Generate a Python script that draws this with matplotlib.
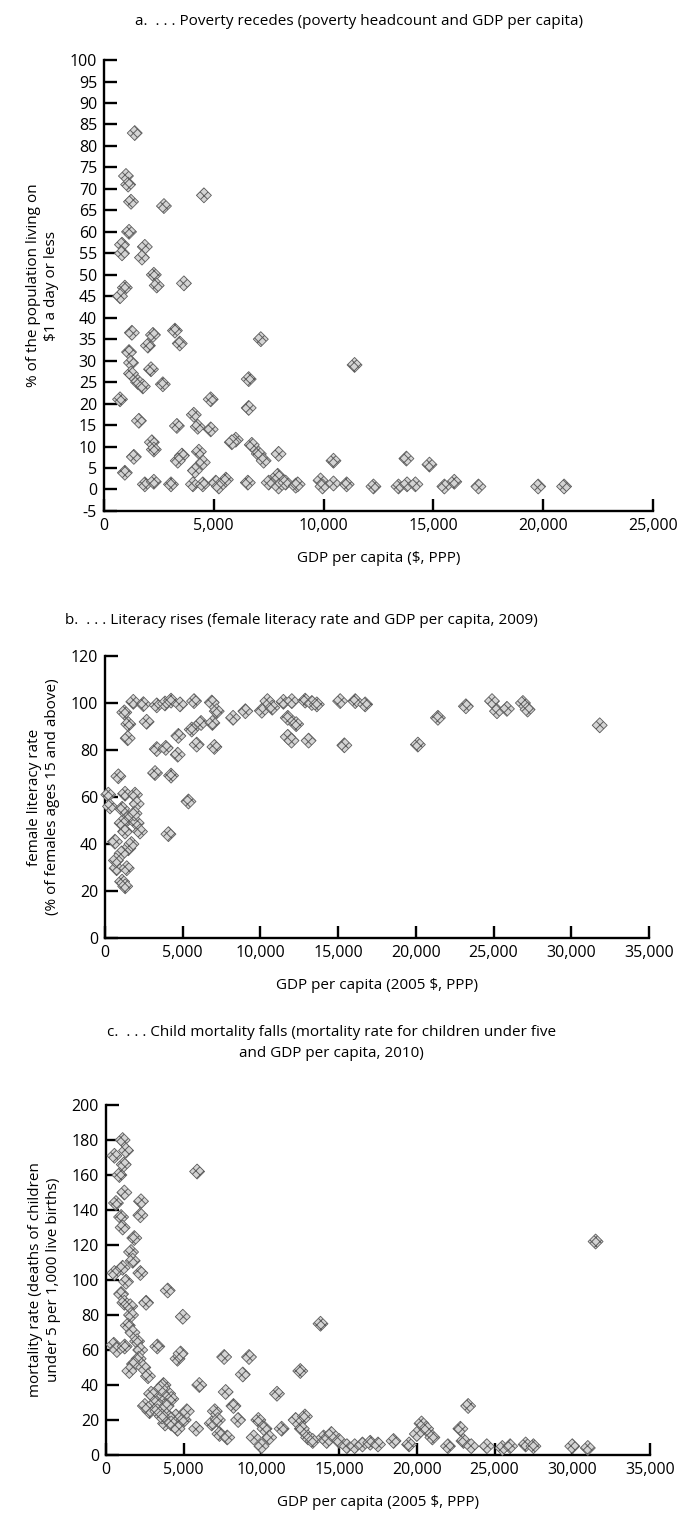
import matplotlib
matplotlib.use("Agg")
import matplotlib.pyplot as plt
from matplotlib.ticker import FuncFormatter

plt.rcParams['font.family'] = ['Open Sans', 'DejaVu Sans']
plt.rcParams['axes.unicode_minus'] = False
plt.rcParams['hatch.linewidth'] = 0.7

# a. poverty headcount vs GDP per capita
pov_gdp = [1400, 1000, 1100, 1230, 2730, 4550, 1140, 820, 820, 1860, 1730, 2270, 2400, 3640, 950, 730,
           1270, 2230, 3230, 2000, 3450, 7140, 1140, 1230, 2140, 1230, 1550, 1770, 2680, 730, 4860,
           6590, 6590, 1590, 4090, 3320, 4270, 4860, 6000, 5820, 2180, 2270, 6730, 7050, 7270, 7950,
           1360, 3550, 3360, 4320, 4500, 4140, 950, 1860, 2270, 3050, 4050, 4500, 5090, 5230, 5550,
           6550, 7500, 7910, 7950, 8270, 8730, 11410, 8820, 9860, 9950, 10450, 10450, 11050, 12270,
           13410, 13800, 14180, 13770, 14820, 15500, 15950, 17050, 19770, 20950]
pov_rate = [83, 73, 71, 67, 66, 68.5, 60, 57, 55, 56.5, 54, 50, 47.5, 48, 47, 45,
            36.5, 36, 37, 33.5, 34, 35, 32, 29.5, 28, 27, 25, 24, 24.5, 21, 21,
            25.7, 19, 16, 17.4, 14.8, 14.6, 14, 11.6, 11, 11, 9.3, 10.4, 8.3, 6.7, 8.3,
            7.6, 7.9, 6.7, 8.8, 6.3, 4.4, 3.9, 1.2, 1.8, 1.2, 1.2, 1.2, 1.6, 0.7, 2.3,
            1.6, 1.6, 3.2, 0.7, 1.6, 0.9, 29, 1.2, 2.1, 0.7, 6.7, 1.4, 1.2, 0.7,
            0.7, 1.2, 1.2, 7.2, 5.8, 0.7, 1.8, 0.7, 0.7, 0.7]

# b. female literacy rate vs GDP per capita, 2009
lit_gdp = [1820, 2470, 3330, 3860, 4250, 4830, 5730, 6870, 7190, 8240, 9030, 10090, 10450, 10760,
           11480, 12020, 12880, 13310, 13630, 15130, 16100, 16740,
           1240, 1500, 2680, 1460, 4720, 5580, 6180, 6910, 5900, 7040, 11760, 12300, 11760, 12000,
           13100, 15400,
           3330, 3910, 4680, 3220, 4250, 860, 210, 1290, 1930, 320, 2040, 5370, 1500, 1070, 2040,
           2250, 1290, 4080, 640, 1500, 1070, 750, 1400, 1100, 1300, 700, 1700, 1900, 1100,
           21420, 23220, 24900, 25220, 25860, 26890, 27190, 31830, 20130]
lit_rate = [100.5, 99.5, 99, 99.8, 101, 99.4, 100.8, 100.2, 96.5, 93.7, 96.5, 96.7, 100.8, 98,
            100.5, 100.8, 101, 100, 99.4, 100.8, 100.8, 99.4,
            96, 91, 92, 85, 86, 88.7, 91.5, 91.5, 82.3, 81.3, 93.7, 91, 85.6, 84,
            84, 82,
            80.4, 80.9, 78, 70.2, 69.1, 68.8, 61, 61.4, 61, 56, 57.1, 58.1, 51, 48.9, 48.9,
            45.3, 45.3, 44.2, 41, 38.2, 36, 29.7, 29.7, 24, 22, 33, 40, 53, 55,
            93.7, 98.6, 100.8, 96.5, 97.5, 100, 97.2, 90.5, 82.3]

# c. under-five mortality vs GDP per capita, 2010
mort_gdp = [1070, 1290, 540, 1140, 860, 5860, 1180, 640, 2250, 2210, 970, 1070, 1820, 1610, 1720,
            540, 1070, 2210, 1290, 970, 3970, 1180, 2580, 1560, 1610, 4940, 1400, 1700,
            500, 700, 1200, 2000, 2200, 2100, 1800, 2400, 1500, 2700, 3300, 3000, 2800, 3200,
            3700, 4000, 3600, 4200, 3500, 4600, 4800, 4500, 4000, 3800, 5000, 5200, 5800, 6000,
            6800, 7000, 7200, 7300, 7600, 7800, 7700, 8200, 8500, 8800, 9200, 9500, 9800, 10000,
            10200, 10500, 11000, 11300, 12500, 12200, 12600, 12800, 13000, 13300, 13800, 14000,
            14200, 14500, 15000, 15500, 16000, 16500, 17000, 17500, 18500, 19500, 20000, 20300,
            20600, 21000, 22000, 22800, 23000, 23300, 23500, 24500, 25500, 26000, 27000, 27500,
            30000, 31000, 31500, 2500, 3300, 3600, 4200, 4600, 2900, 3900]
mort_rate = [180, 174, 171, 166, 160, 162, 150, 144, 145, 137, 136, 130, 124, 116, 111,
             104, 107, 104, 99, 92, 94, 87, 87, 85, 80, 79, 74, 70,
             63, 60, 62, 65, 60, 55, 52, 50, 48, 45, 62, 28, 25, 30,
             40, 35, 35, 32, 38, 55, 58, 22, 22, 18, 20, 25, 15, 40,
             18, 25, 20, 12, 56, 10, 36, 28, 20, 46, 56, 10, 20, 5,
             15, 10, 35, 15, 48, 20, 15, 22, 10, 8, 75, 10,
             8, 12, 8, 5, 5, 6, 7, 6, 8, 6, 12, 18,
             15, 10, 5, 15, 8, 28, 5, 5, 4, 5, 6, 5,
             5, 4, 122, 28, 25, 22, 18, 15, 35, 28]

comma = FuncFormatter(lambda v, p: f"{int(v):,}")

fig = plt.figure(figsize=(6.77, 15.28), dpi=100)


def panel(rect, x, y, xlim, xticks, ylim, yticks, xlabel, ylabel):
    ax = fig.add_axes(rect)
    ax.scatter(x, y, marker='D', s=58, facecolors='#d4d4d4', edgecolors='#5e5e5e',
               linewidths=0.6, hatch='xxxx', zorder=3, clip_on=False)
    ax.set_xlim(*xlim)
    ax.set_ylim(*ylim)
    ax.set_xticks(xticks)
    ax.set_yticks(yticks)
    ax.xaxis.set_major_formatter(comma)
    for s in ['top', 'right']:
        ax.spines[s].set_visible(False)
    for s in ['left', 'bottom']:
        ax.spines[s].set_linewidth(1.7)
    ax.tick_params(direction='in', length=9, width=1.7, labelsize=11.5, pad=5)
    ax.set_xlabel(xlabel, fontsize=11, labelpad=12)
    ax.set_ylabel(ylabel, fontsize=11, labelpad=8)
    return ax


panel([0.1536, 0.6656, 0.811, 0.2951], pov_gdp, pov_rate, (0, 25000), range(0, 25001, 5000),
      (-5, 100), range(-5, 101, 5), 'GDP per capita ($, PPP)',
      '% of the population living on\n$1 a day or less')

panel([0.1551, 0.3861, 0.8035, 0.1846], lit_gdp, lit_rate, (0, 35000), range(0, 35001, 5000),
      (0, 120), range(0, 121, 20), 'GDP per capita (2005 $, PPP)',
      'female literacy rate\n(% of females ages 15 and above)')

panel([0.1566, 0.0478, 0.8035, 0.229], mort_gdp, mort_rate, (0, 35000), range(0, 35001, 5000),
      (0, 200), range(0, 201, 20), 'GDP per capita (2005 $, PPP)',
      'mortality rate (deaths of children\nunder 5 per 1,000 live births)')

fig.text(0.53, 0.986, 'a.  . . . Poverty recedes (poverty headcount and GDP per capita)',
         ha='center', va='center', fontsize=11)
fig.text(0.445, 0.594, 'b.  . . . Literacy rises (female literacy rate and GDP per capita, 2009)',
         ha='center', va='center', fontsize=11)
fig.text(0.49, 0.3175, 'c.  . . . Child mortality falls (mortality rate for children under five\nand GDP per capita, 2010)',
         ha='center', va='center', fontsize=11, linespacing=1.5)

fig.savefig('out.png', dpi=100)
